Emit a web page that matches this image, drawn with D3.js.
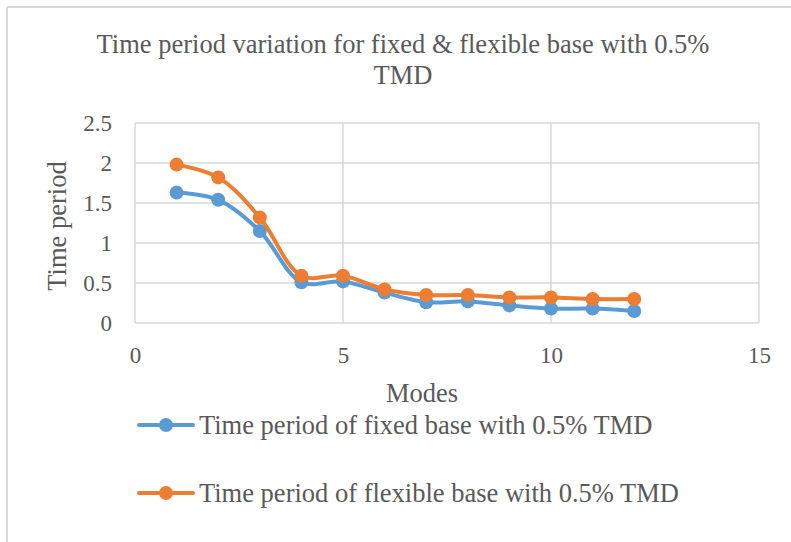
<!DOCTYPE html>
<html>
<head>
<meta charset="utf-8">
<script src="https://cdn.jsdelivr.net/npm/d3@7"></script>
<style>
  html, body { margin: 0; padding: 0; background: #fff; }
  svg { display: block; }
  text { font-family: "Liberation Serif", "Times New Roman", serif; fill: #595959; }
</style>
</head>
<body>
<svg id="chart" width="791" height="542"></svg>
<script>
// Modes and time periods (s) for the two base conditions
const modes = [1, 2, 3, 4, 5, 6, 7, 8, 9, 10, 11, 12];
const fixedBase = [1.63, 1.54, 1.15, 0.51, 0.52, 0.38, 0.26, 0.27, 0.22, 0.18, 0.18, 0.15];
const flexibleBase = [1.98, 1.82, 1.32, 0.59, 0.59, 0.42, 0.35, 0.35, 0.32, 0.32, 0.30, 0.30];
const seriesNames = [
  "Time period of fixed base with 0.5% TMD",
  "Time period of flexible base with 0.5% TMD"
];
const seriesColors = ["#5B9BD5", "#ED7D31"];
const xTicks = [0, 5, 10, 15];
const yTicks = [0, 0.5, 1, 1.5, 2, 2.5];
const yTickLabels = ["0", "0.5", "1", "1.5", "2", "2.5"];

const FONT = "Liberation Serif, Times New Roman, serif";
const svg = d3.select("#chart");
const grid = "#d9d9d9";

// Chart frame (top and left edges)
svg.append("line").attr("x1", 7).attr("x2", 791).attr("y1", 7).attr("y2", 7)
  .attr("stroke", grid).attr("stroke-width", 2);
svg.append("line").attr("x1", 7).attr("x2", 7).attr("y1", 7).attr("y2", 542)
  .attr("stroke", grid).attr("stroke-width", 2);

// Title
const title = svg.append("text").attr("text-anchor", "middle")
  .attr("font-size", 26.5).attr("font-family", FONT);
title.append("tspan").attr("x", 403).attr("y", 53)
  .text("Time period variation for fixed & flexible base with 0.5%");
title.append("tspan").attr("x", 403).attr("y", 84).text("TMD");

const plot = { left: 135, right: 759, top: 123, bottom: 323 };
const x = d3.scaleLinear().domain([0, 15]).range([plot.left, plot.right]);
const y = d3.scaleLinear().domain([0, 2.5]).range([plot.bottom, plot.top]);

// Gridlines
const g = svg.append("g");
g.selectAll(".hgrid").data(yTicks).join("line")
  .attr("x1", plot.left).attr("x2", plot.right)
  .attr("y1", d => y(d)).attr("y2", d => y(d))
  .attr("stroke", grid).attr("stroke-width", 1.5);
g.selectAll(".vgrid").data(xTicks).join("line")
  .attr("x1", d => x(d)).attr("x2", d => x(d))
  .attr("y1", plot.top).attr("y2", plot.bottom)
  .attr("stroke", grid).attr("stroke-width", 1.5);

// Axes (labels only; lines come from the grid)
const xAxis = svg.append("g").attr("transform", `translate(0,${plot.bottom})`)
  .call(d3.axisBottom(x).tickValues(xTicks).tickSize(0).tickPadding(24).tickFormat(d3.format("d")));
const yAxis = svg.append("g").attr("transform", `translate(${plot.left},0)`)
  .call(d3.axisLeft(y).tickValues(yTicks).tickSize(0).tickPadding(23)
    .tickFormat((d, i) => yTickLabels[i]));
[xAxis, yAxis].forEach(a => {
  a.attr("font-family", FONT);
  a.select(".domain").remove();
  a.selectAll("text").attr("font-size", 23).attr("fill", "#595959");
});

// Axis titles
svg.append("text").attr("x", 422).attr("y", 402).attr("text-anchor", "middle")
  .attr("font-size", 26.5).attr("font-family", FONT).text("Modes");
svg.append("text").attr("transform", "translate(66,226) rotate(-90)")
  .attr("text-anchor", "middle").attr("font-size", 26.5).attr("font-family", FONT)
  .text("Time period");

// Series lines and markers
const line = d3.line().x(d => x(d[0])).y(d => y(d[1])).curve(d3.curveCatmullRom.alpha(0.5));
const series = [fixedBase, flexibleBase];
series.forEach((vals, i) => {
  const pts = modes.map((m, k) => [m, vals[k]]);
  svg.append("path").datum(pts).attr("d", line).attr("fill", "none")
    .attr("stroke", seriesColors[i]).attr("stroke-width", 4)
    .attr("stroke-linejoin", "round").attr("stroke-linecap", "round");
  svg.append("g").selectAll("circle").data(pts).join("circle")
    .attr("cx", d => x(d[0])).attr("cy", d => y(d[1])).attr("r", 7)
    .attr("fill", seriesColors[i]);
});

// Legend
const legend = svg.append("g");
seriesNames.forEach((name, i) => {
  const ly = 425 + i * 68;
  legend.append("line").attr("x1", 139).attr("x2", 193).attr("y1", ly).attr("y2", ly)
    .attr("stroke", seriesColors[i]).attr("stroke-width", 4).attr("stroke-linecap", "round");
  legend.append("circle").attr("cx", 166).attr("cy", ly).attr("r", 7).attr("fill", seriesColors[i]);
  legend.append("text").attr("x", 199).attr("y", ly + 9).attr("font-size", 26.5)
    .attr("font-family", FONT).text(name);
});
</script>
</body>
</html>
